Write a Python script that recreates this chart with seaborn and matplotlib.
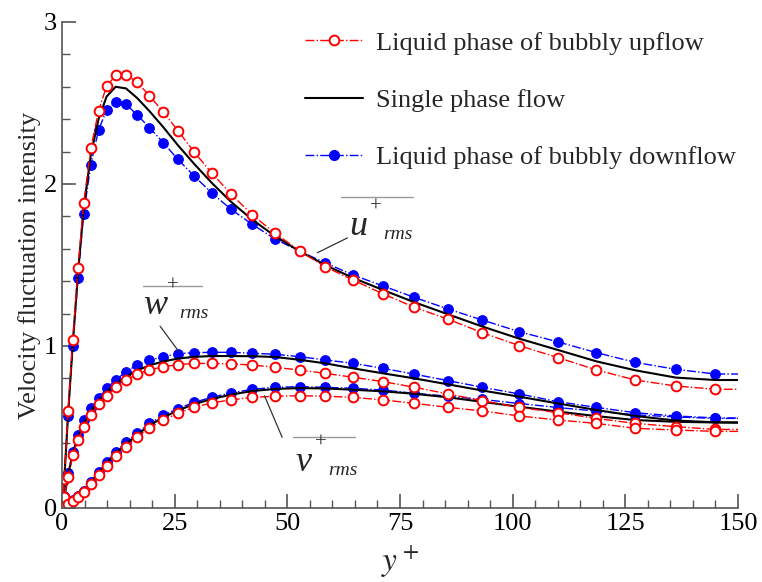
import numpy as np
import pandas as pd
import seaborn as sns
import matplotlib.pyplot as plt
from matplotlib.ticker import MultipleLocator
from matplotlib.lines import Line2D

# wall distance y+ (stretched grid)
y_plus = [0, 0.17, 0.5, 1.35, 2.4, 3.55, 4.8, 6.4, 8.1, 9.9, 11.9, 14.2, 16.7, 19.4,
          22.5, 25.7, 29.3, 33.3, 37.5, 42.2, 47.3, 52.7, 58.4, 64.6, 71.3, 78.2,
          85.7, 93.3, 101.5, 110.1, 118.6, 127.2, 136.2, 145.0, 150.0]

# streamwise u+rms
u_up = [0, 0.07, 0.18, 0.6, 1.04, 1.48, 1.88, 2.22, 2.45, 2.605, 2.67, 2.675, 2.628, 2.545,
        2.444, 2.33, 2.198, 2.066, 1.938, 1.81, 1.695, 1.588, 1.489, 1.407, 1.321, 1.239,
        1.165, 1.082, 1.002, 0.928, 0.852, 0.79, 0.753, 0.733, 0.733]
u_single = [0, 0.065, 0.175, 0.58, 1.02, 1.45, 1.85, 2.18, 2.40, 2.54, 2.60, 2.59, 2.53, 2.45,
            2.35, 2.24, 2.125, 2.005, 1.89, 1.78, 1.678, 1.585, 1.50, 1.42, 1.345, 1.27,
            1.195, 1.12, 1.045, 0.975, 0.905, 0.85, 0.805, 0.79, 0.79]
u_down = [0, 0.06, 0.17, 0.57, 1.0, 1.42, 1.815, 2.12, 2.333, 2.457, 2.504, 2.492, 2.426, 2.348,
          2.255, 2.152, 2.05, 1.943, 1.844, 1.751, 1.66, 1.585, 1.514, 1.438, 1.37, 1.30,
          1.228, 1.16, 1.088, 1.025, 0.959, 0.899, 0.856, 0.827, 0.827]

# spanwise w+rms
w_up = [0, 0.02, 0.07, 0.19, 0.327, 0.42, 0.50, 0.574, 0.64, 0.693, 0.745, 0.79, 0.827, 0.852,
        0.872, 0.885, 0.892, 0.893, 0.889, 0.883, 0.868, 0.852, 0.831, 0.807, 0.78, 0.745,
        0.704, 0.662, 0.621, 0.588, 0.553, 0.522, 0.502, 0.485, 0.485]
w_single = [0, 0.02, 0.065, 0.2, 0.335, 0.435, 0.52, 0.595, 0.66, 0.715, 0.765, 0.81, 0.85, 0.88,
            0.905, 0.922, 0.933, 0.938, 0.938, 0.937, 0.932, 0.915, 0.893, 0.862, 0.831, 0.80,
            0.763, 0.725, 0.687, 0.645, 0.605, 0.568, 0.54, 0.529, 0.528]
w_down = [0, 0.02, 0.075, 0.214, 0.348, 0.45, 0.543, 0.615, 0.677, 0.739, 0.79, 0.841, 0.883, 0.912,
          0.934, 0.952, 0.959, 0.961, 0.961, 0.955, 0.949, 0.934, 0.914, 0.893, 0.862, 0.826,
          0.786, 0.745, 0.704, 0.656, 0.621, 0.588, 0.568, 0.556, 0.556]

# wall-normal v+rms
v_up = [0, 0.0, 0.008, 0.025, 0.042, 0.065, 0.097, 0.148, 0.204, 0.262, 0.322, 0.378, 0.438, 0.494,
        0.543, 0.584, 0.621, 0.65, 0.667, 0.683, 0.69, 0.693, 0.69, 0.683, 0.667, 0.646,
        0.621, 0.599, 0.568, 0.543, 0.522, 0.492, 0.481, 0.473, 0.473]
v_single = [0, 0.0, 0.008, 0.027, 0.045, 0.069, 0.103, 0.157, 0.216, 0.277, 0.338, 0.394, 0.453, 0.51,
            0.56, 0.602, 0.641, 0.673, 0.70, 0.722, 0.735, 0.74, 0.738, 0.73, 0.72, 0.705,
            0.683, 0.655, 0.625, 0.595, 0.567, 0.543, 0.532, 0.528, 0.527]
v_down = [0, 0.0, 0.009, 0.028, 0.047, 0.072, 0.108, 0.163, 0.224, 0.285, 0.348, 0.405, 0.465, 0.522,
          0.572, 0.614, 0.652, 0.684, 0.71, 0.733, 0.745, 0.749, 0.745, 0.739, 0.728, 0.708,
          0.69, 0.67, 0.645, 0.62, 0.598, 0.575, 0.562, 0.553, 0.553]

labels = ["Liquid phase of bubbly upflow", "Single phase flow", "Liquid phase of bubbly downflow"]

sns.set_style("ticks")
plt.rcParams['font.family'] = ['Liberation Serif', 'DejaVu Serif']
plt.rcParams['mathtext.fontset'] = 'stix'

fig, ax = plt.subplots(figsize=(7.62, 5.82), dpi=100)
fig.subplots_adjust(left=62/762, right=738/762, bottom=1-508/582, top=1-22/582)

skip_last = slice(0, len(y_plus) - 1)
down_kw = dict(color='blue', linestyle='-.', linewidth=1.0, marker='o', markersize=7,
               markerfacecolor='blue', markeredgecolor='blue', markevery=skip_last)
single_kw = dict(color='black', linestyle='-', linewidth=1.5)
up_kw = dict(color='red', linestyle='-.', linewidth=1.0, marker='o', markersize=7,
             markerfacecolor='white', markeredgecolor='red', markeredgewidth=1.4, markevery=skip_last)

for series in (u_down, w_down, v_down):
    sns.lineplot(x=y_plus, y=series, ax=ax, errorbar=None, sort=False, **down_kw)
for series in (u_single, w_single, v_single):
    sns.lineplot(x=y_plus, y=series, ax=ax, errorbar=None, sort=False, **single_kw)
for series in (u_up, w_up, v_up):
    sns.lineplot(x=y_plus, y=series, ax=ax, errorbar=None, sort=False, **up_kw)

ax.set_xlim(0, 150)
ax.set_ylim(0, 3)
ax.xaxis.set_major_locator(MultipleLocator(25))
ax.xaxis.set_minor_locator(MultipleLocator(5))
ax.yaxis.set_major_locator(MultipleLocator(1))
ax.yaxis.set_minor_locator(MultipleLocator(0.2))
ax.tick_params(which='both', direction='in', colors='#555555', labelcolor='black', labelsize=19)
ax.tick_params(which='major', length=10, width=1.2)
ax.tick_params(which='minor', length=6, width=1.0)
for side in ('top', 'right'):
    ax.spines[side].set_visible(False)
for side in ('left', 'bottom'):
    ax.spines[side].set_color('#555555')
    ax.spines[side].set_linewidth(1.2)

ax.set_ylabel("Velocity fluctuation intensity", fontsize=19, labelpad=2)
ax.set_xlabel("$y^+$", fontsize=24, labelpad=6)

# curve labels with overline and leader line
def curve_label(letter, x0, x1, ybar, xl, yl, tip, base):
    ax.plot([x0, x1], [ybar, ybar], color='#999999', linewidth=1.0)
    ax.text(xl, yl, letter, fontsize=26, style='italic', ha='center', va='center')
    ax.text(xl + 4.0, yl + 0.12, "+", fontsize=15, ha='center', va='center')
    ax.text(xl + 5.5, yl - 0.05, "rms", fontsize=14, style='italic', ha='left', va='center')
    ax.annotate("", xy=tip, xytext=base,
                arrowprops=dict(arrowstyle='-', color='#333333', linewidth=0.9))

curve_label("u", 61.9, 77.9, 1.918, 65.7, 1.74, (56.1, 1.568), (63.9, 1.675))
curve_label("w", 18.0, 31.0, 1.37, 20.6, 1.25, (26.2, 0.955), (21.4, 1.136))
curve_label("v", 51.3, 65.0, 0.44, 53.5, 0.28, (44.7, 0.708), (49.1, 0.42))

handles = [Line2D([], [], **{k: v for k, v in up_kw.items() if k != 'markevery'}),
           Line2D([], [], **single_kw),
           Line2D([], [], **{k: v for k, v in down_kw.items() if k != 'markevery'})]
ax.legend(handles, labels, loc='upper left', bbox_to_anchor=(0.359, 0.981), frameon=False,
          fontsize=19, handlelength=2.2, handletextpad=0.5, labelspacing=1.28,
          borderaxespad=0, borderpad=0)

plt.savefig("out.png", dpi=100)
